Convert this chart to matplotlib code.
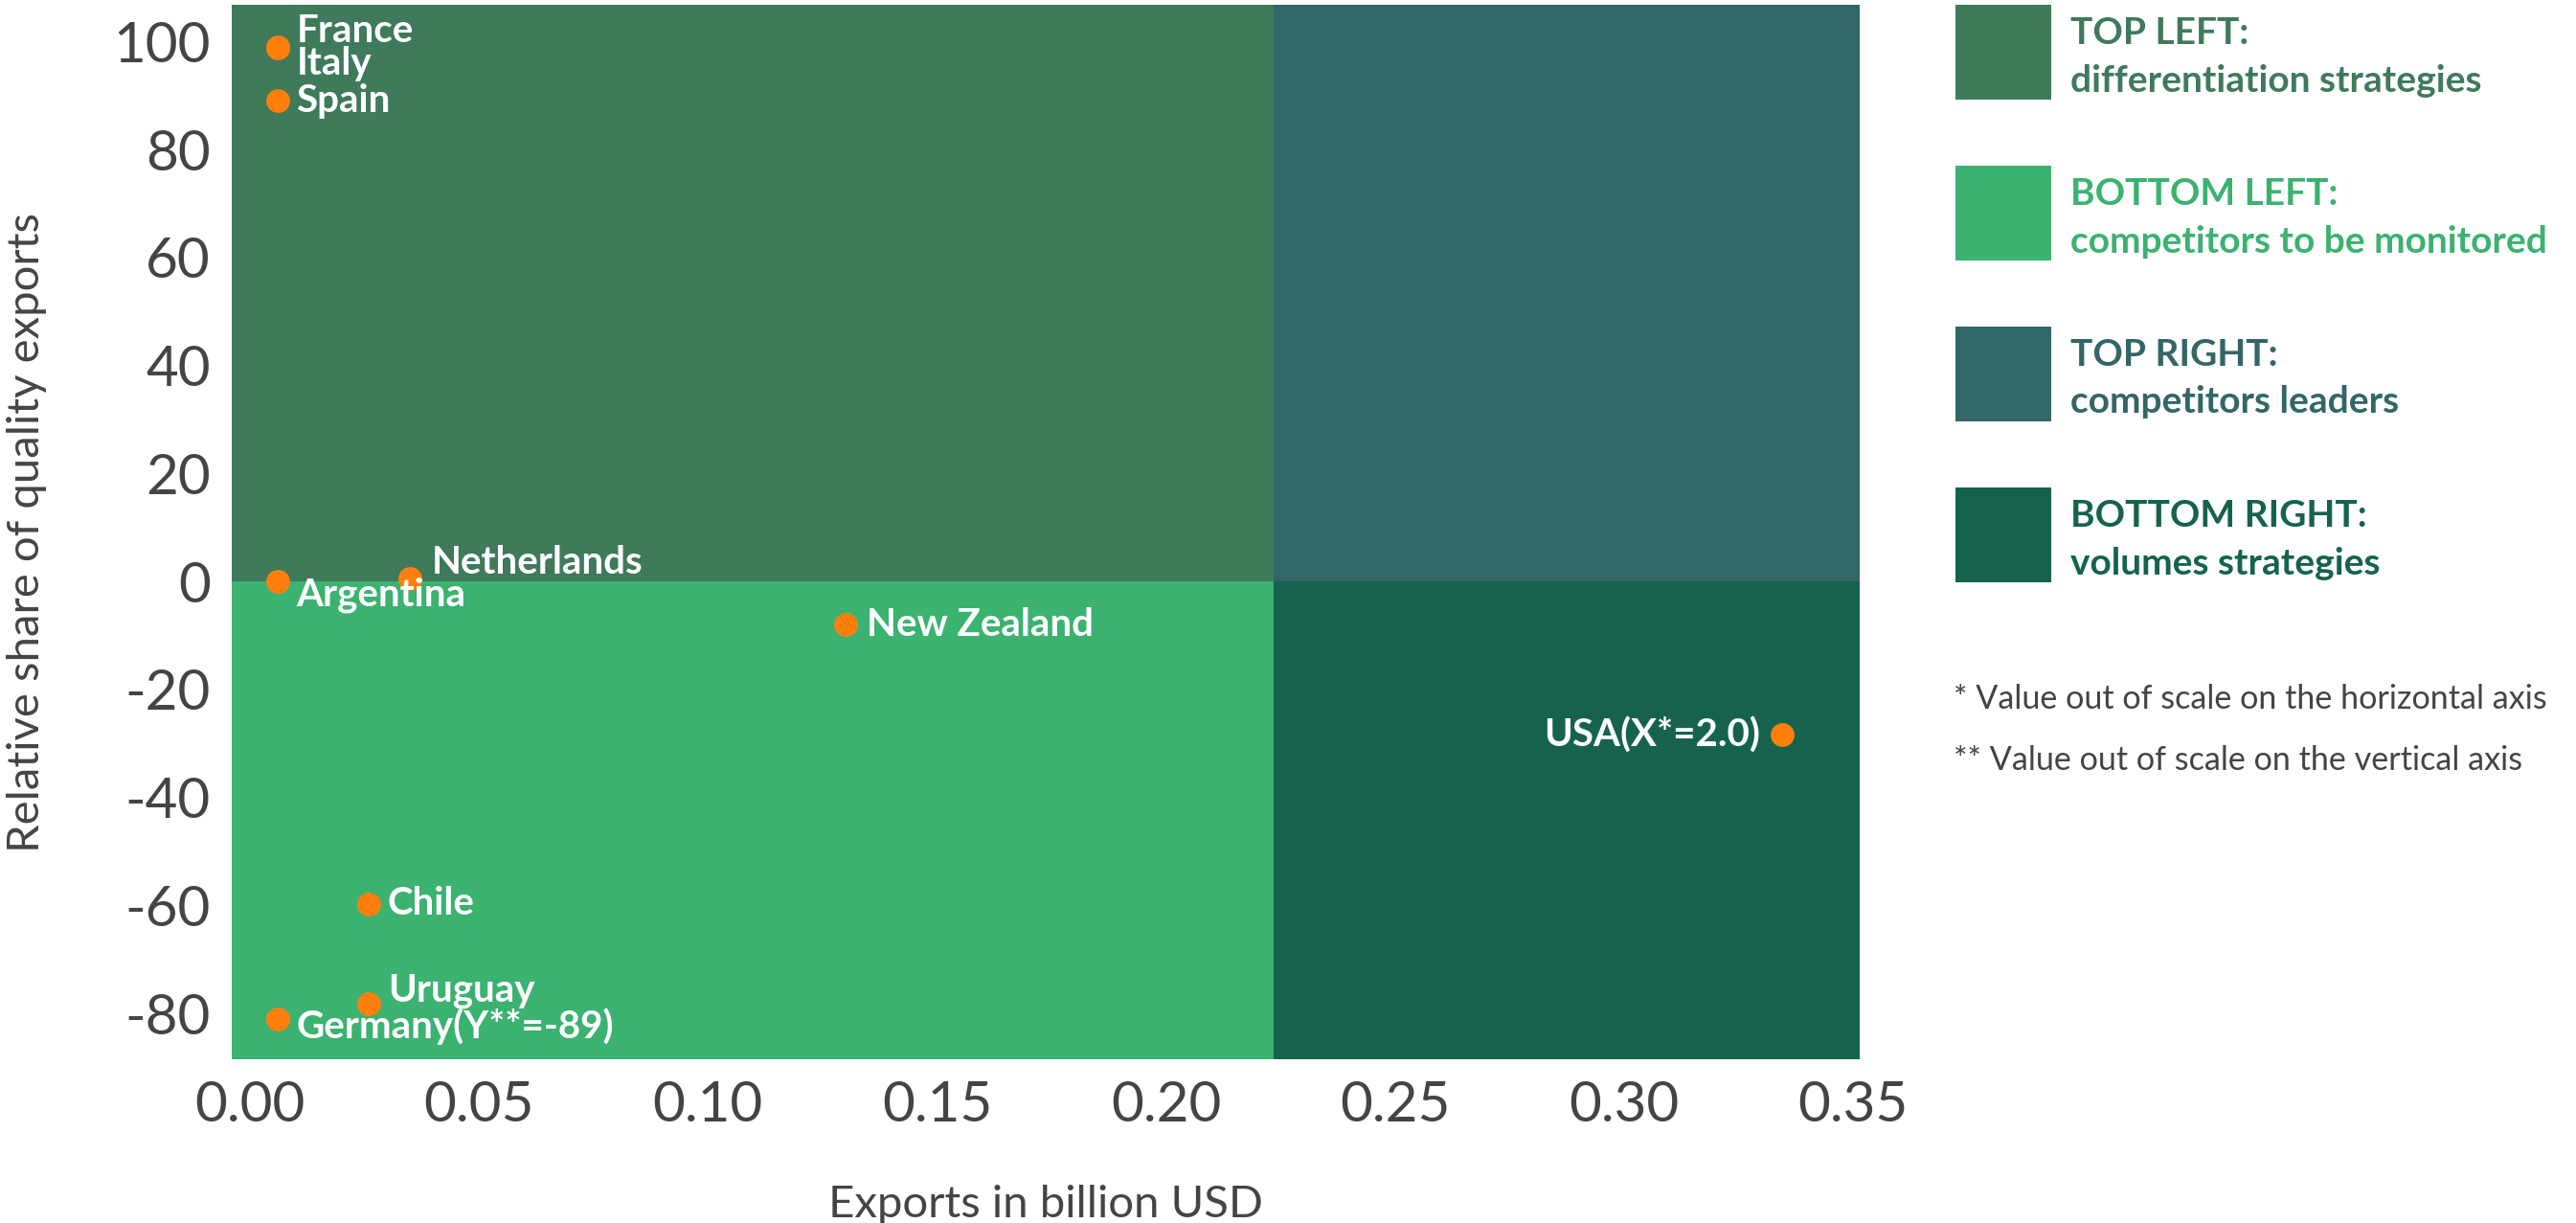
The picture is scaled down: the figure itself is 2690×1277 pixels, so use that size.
import matplotlib
matplotlib.use("Agg")
import matplotlib.pyplot as plt
from matplotlib.patches import Rectangle

plt.rcParams['font.family'] = ['Lato', 'DejaVu Sans']

# ---- data ----
countries = ["France", "Italy", "Spain", "Argentina", "Netherlands",
             "New Zealand", "USA(X*=2.0)", "Chile", "Uruguay", "Germany(Y**=-89)"]
exports = [0.006, 0.006, 0.006, 0.006, 0.035, 0.130, 0.3345, 0.026, 0.026, 0.006]
rel_share = [99.0, 98.8, 89.0, 0.0, 0.6, -8.0, -28.4, -59.7, -78.3, -81.0]
# label offsets (points) and alignment
label_dx = [7, 7, 7, 7, 8, 8, -8, 7, 7, 7]
label_dy = [6, -6, 0, -5, 6, 0, 0, 0, 5, -3]
label_ha = ["left"] * 6 + ["right"] + ["left"] * 3

x_split = 0.2235
y_split = 0.0
xlim = (-0.004, 0.3515)
ylim = (-88.5, 106.8)
xticks = [0.00, 0.05, 0.10, 0.15, 0.20, 0.25, 0.30, 0.35]
yticks = [-80, -60, -40, -20, 0, 20, 40, 60, 80, 100]

quad_names = ["TOP LEFT:", "BOTTOM LEFT:", "TOP RIGHT:", "BOTTOM RIGHT:"]
quad_desc = ["differentiation strategies", "competitors to be monitored",
             "competitors leaders", "volumes strategies"]
quad_colors = ["#3F7A5A", "#3BB270", "#336666", "#15634C"]
footnotes = ["* Value out of scale on the horizontal axis",
             "** Value out of scale on the vertical axis"]

W, H = 2690, 1277
DPI = 200
fig = plt.figure(figsize=(W / DPI, H / DPI), dpi=DPI)
ax = fig.add_axes([242 / W, 1 - 1106 / H, (1942 - 242) / W, (1106 - 5) / H])
ax.set_xlim(*xlim)
ax.set_ylim(*ylim)

# quadrants
ax.add_patch(Rectangle((xlim[0], y_split), x_split - xlim[0], ylim[1] - y_split,
                       color=quad_colors[0], lw=0, zorder=0))
ax.add_patch(Rectangle((xlim[0], ylim[0]), x_split - xlim[0], y_split - ylim[0],
                       color=quad_colors[1], lw=0, zorder=0))
ax.add_patch(Rectangle((x_split, y_split), xlim[1] - x_split, ylim[1] - y_split,
                       color=quad_colors[2], lw=0, zorder=0))
ax.add_patch(Rectangle((x_split, ylim[0]), xlim[1] - x_split, y_split - ylim[0],
                       color=quad_colors[3], lw=0, zorder=0))

ax.scatter(exports, rel_share, s=80, color="#FF7F0E", zorder=3, linewidths=0)
for c, x, y, dx, dy, ha in zip(countries, exports, rel_share, label_dx, label_dy, label_ha):
    ax.annotate(c, (x, y), xytext=(dx, dy), textcoords="offset points",
                ha=ha, va="center", color="white", fontsize=14.5,
                fontweight="bold", zorder=4)

for s in ax.spines.values():
    s.set_visible(False)
ax.set_xticks(xticks)
ax.set_xticklabels([f"{t:.2f}" for t in xticks])
ax.set_yticks(yticks)
ax.set_yticklabels([str(t) for t in yticks])
ax.tick_params(length=0, labelsize=21, labelcolor="#444444", pad=8)
ax.set_xlabel("Exports in billion USD", fontsize=17, color="#444444", labelpad=20)
ax.set_ylabel("Relative share of quality exports", fontsize=17, color="#444444", labelpad=25)

# legend boxes
box_tops = [5, 173, 341, 509]
for top, name, desc, col in zip(box_tops, quad_names, quad_desc, quad_colors):
    fig.patches.append(Rectangle((2042 / W, 1 - (top + 99) / H), 100 / W, 99 / H,
                                 transform=fig.transFigure, color=col, lw=0))
    fig.text(2162 / W, 1 - (top + 30) / H, name, color=col, fontsize=14,
             fontweight="bold", va="center", ha="left")
    fig.text(2162 / W, 1 - (top + 79) / H, desc, color=col, fontsize=14,
             fontweight="bold", va="center", ha="left")

for i, fn in enumerate(footnotes):
    fig.text(2040 / W, 1 - (730 + 64 * i) / H, fn, color="#444444", fontsize=12.3,
             va="center", ha="left")

fig.savefig("out.png", dpi=DPI)
